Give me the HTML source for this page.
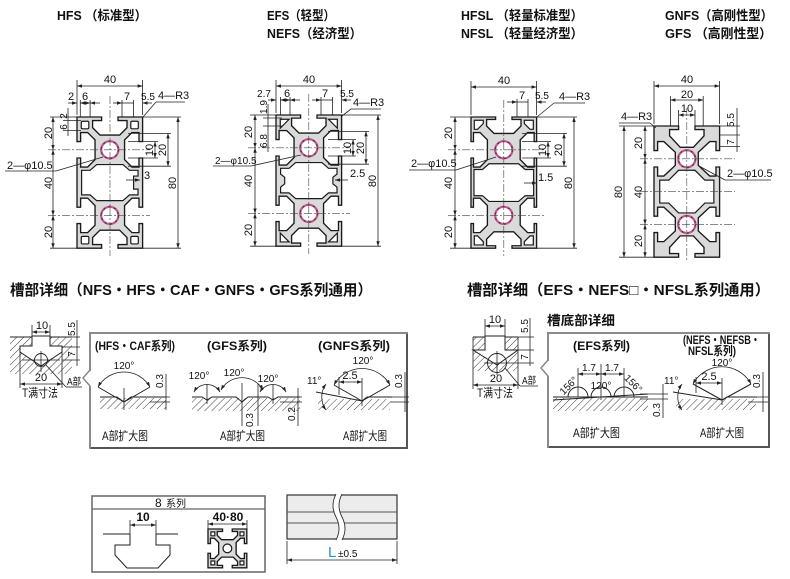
<!DOCTYPE html>
<html><head><meta charset="utf-8">
<style>
html,body{margin:0;padding:0;background:#fff;}
svg{display:block;}
text{font-family:"Liberation Sans","Noto Sans CJK SC",sans-serif;fill:#111;}
.t{font-size:13px;font-weight:bold;}
.t2{font-size:15px;font-weight:bold;}
.d{font-size:11px;}
.s{font-size:10px;}
.b{font-size:12px;font-weight:bold;}
.c{font-size:12px;}
.ln{stroke:#222;stroke-width:0.8;fill:none;}
.cl{stroke:#444;stroke-width:0.6;stroke-dasharray:8 2 2 2;fill:none;}
.m{fill:#dadada;stroke:#1a1a1a;stroke-width:1.35;vector-effect:non-scaling-stroke;}
.h{fill:#fff;stroke:#1a1a1a;stroke-width:1.2;vector-effect:non-scaling-stroke;}
.pk{fill:#fff;stroke:#c2548f;stroke-width:2.2;vector-effect:non-scaling-stroke;}
.pd{fill:none;stroke:#333;stroke-width:0.6;stroke-dasharray:1.2 2.2;}
.ht{fill:url(#hatch);stroke:none;}
.ol{stroke:#222;stroke-width:1;fill:none;}
</style></head><body>
<svg width="790" height="579" viewBox="0 0 790 579" xmlns="http://www.w3.org/2000/svg">
<defs>
<marker id="ar" viewBox="0 0 10 7" refX="10" refY="3.5" markerUnits="userSpaceOnUse" markerWidth="5" markerHeight="3.5" orient="auto-start-reverse" preserveAspectRatio="none"><path d="M0,0 L10,3.5 L0,7 Z" fill="#222"/></marker>
<pattern id="hatch" patternUnits="userSpaceOnUse" width="5" height="5" patternTransform="rotate(45)"><line x1="0" y1="0" x2="0" y2="5" stroke="#222" stroke-width="0.9"/></pattern>
</defs>

<!-- ================= TITLES ================= -->
<text class="t" x="57" y="20" textLength="90" lengthAdjust="spacingAndGlyphs">HFS （标准型）</text>
<text class="t" x="267" y="20" textLength="68" lengthAdjust="spacingAndGlyphs">EFS（轻型）</text>
<text class="t" x="267" y="38" textLength="95" lengthAdjust="spacingAndGlyphs">NEFS（经济型）</text>
<text class="t" x="461" y="20" textLength="122" lengthAdjust="spacingAndGlyphs">HFSL （轻量标准型）</text>
<text class="t" x="461" y="38" textLength="122" lengthAdjust="spacingAndGlyphs">NFSL （轻量经济型）</text>
<text class="t" x="665" y="20" textLength="108" lengthAdjust="spacingAndGlyphs">GNFS（高刚性型）</text>
<text class="t" x="665" y="38" textLength="107" lengthAdjust="spacingAndGlyphs">GFS （高刚性型）</text>

<!-- ================= HFS PROFILE ================= -->
<g transform="translate(77,117) scale(1.64)">
<path class="m" d="M0,0 L15,0 15,2.2 9.5,2.2 9.5,6.5 14,11 26,11 30.5,6.5 30.5,2.2 25,2.2 25,0 40,0 40,15 37.8,15 37.8,9.5 33.5,9.5 29,14 29,26 33.5,30.5 37.8,30.5 37.8,25 40,25 40,55 37.8,55 37.8,49.5 33.5,49.5 29,54 29,66 33.5,70.5 37.8,70.5 37.8,65 40,65 40,80 25,80 25,77.8 30.5,77.8 30.5,73.5 26,69 14,69 9.5,73.5 9.5,77.8 15,77.8 15,80 0,80 0,65 2.2,65 2.2,70.5 6.5,70.5 11,66 11,54 6.5,49.5 2.2,49.5 2.2,55 0,55 0,25 2.2,25 2.2,30.5 6.5,30.5 11,26 11,14 6.5,9.5 2.2,9.5 2.2,15 0,15 Z"/>
<rect class="h" x="2.6" y="2.6" width="4.6" height="4.6" rx="0.8"/>
<rect class="h" x="32.8" y="2.6" width="4.6" height="4.6" rx="0.8"/>
<rect class="h" x="2.6" y="72.8" width="4.6" height="4.6" rx="0.8"/>
<rect class="h" x="32.8" y="72.8" width="4.6" height="4.6" rx="0.8"/>
<path class="h" d="M2.8,32.5 L8,32.5 12,29 28,29 32,32.5 37.2,32.5 37.2,36 34.5,36 34.5,44 37.2,44 37.2,47.5 32,47.5 28,51 12,51 8,47.5 2.8,47.5 Z"/>
<circle class="pk" cx="20" cy="20" r="5.25"/><circle class="pd" cx="20" cy="20" r="5.25"/>
<circle class="pk" cx="20" cy="60" r="5.25"/><circle class="pd" cx="20" cy="60" r="5.25"/>
</g>
<line class="cl" x1="110" y1="96" x2="110" y2="256"/>
<line class="cl" x1="48" y1="149.8" x2="150" y2="149.8"/>
<line class="cl" x1="48" y1="215.4" x2="150" y2="215.4"/>
<!-- top dims -->
<line class="ln" x1="77" y1="80" x2="77" y2="115"/><line class="ln" x1="142.6" y1="80" x2="142.6" y2="115"/>
<line class="ln" x1="77" y1="86" x2="142.6" y2="86" marker-start="url(#ar)" marker-end="url(#ar)"/>
<text class="d" x="110" y="83" text-anchor="middle">40</text>
<line class="ln" x1="80.3" y1="100" x2="80.3" y2="117"/><line class="ln" x1="90.1" y1="100" x2="90.1" y2="117"/>
<line class="ln" x1="122" y1="100" x2="122" y2="117"/><line class="ln" x1="133.6" y1="100" x2="133.6" y2="117"/>
<line class="ln" x1="68" y1="103" x2="77" y2="103" marker-end="url(#ar)"/>
<line class="ln" x1="80.3" y1="103" x2="90.1" y2="103" marker-start="url(#ar)" marker-end="url(#ar)"/>
<line class="ln" x1="100" y1="103" x2="90.1" y2="103" marker-end="url(#ar)"/>
<line class="ln" x1="113" y1="103" x2="122" y2="103" marker-end="url(#ar)"/>
<line class="ln" x1="122" y1="103" x2="133.6" y2="103"/>
<line class="ln" x1="152" y1="103" x2="142.6" y2="103" marker-end="url(#ar)"/>
<text class="d" x="71" y="100" text-anchor="middle">2</text>
<text class="d" x="85" y="100" text-anchor="middle">6</text>
<text class="d" x="127" y="100" text-anchor="middle">7</text>
<text class="s" x="148" y="100" text-anchor="middle">5.5</text>
<text class="d" x="158" y="99">4—R3</text>
<line class="ln" x1="156" y1="102" x2="185" y2="102"/><line class="ln" x1="156" y1="102" x2="143" y2="117"/>
<!-- left dims -->
<line class="ln" x1="50" y1="117" x2="77" y2="117"/><line class="ln" x1="50" y1="248.2" x2="77" y2="248.2"/>
<line class="ln" x1="53" y1="117" x2="53" y2="149.8" marker-start="url(#ar)" marker-end="url(#ar)"/>
<line class="ln" x1="53" y1="149.8" x2="53" y2="215.4" marker-start="url(#ar)" marker-end="url(#ar)"/>
<line class="ln" x1="53" y1="215.4" x2="53" y2="248.2" marker-start="url(#ar)" marker-end="url(#ar)"/>
<text class="d" transform="translate(52,133) rotate(-90)" text-anchor="middle">20</text>
<text class="d" transform="translate(52,183) rotate(-90)" text-anchor="middle">40</text>
<text class="d" transform="translate(52,232) rotate(-90)" text-anchor="middle">20</text>
<line class="ln" x1="63" y1="120.6" x2="81" y2="120.6"/><line class="ln" x1="63" y1="130.5" x2="81" y2="130.5"/>
<line class="ln" x1="68" y1="108" x2="68" y2="136"/>
<text class="s" transform="translate(67,116) rotate(-90)" text-anchor="middle">2</text>
<text class="s" transform="translate(67,127) rotate(-90)" text-anchor="middle">6</text>
<text class="d" x="7" y="169">2—φ10.5</text>
<line class="ln" x1="5" y1="171" x2="56" y2="171"/><line class="ln" x1="56" y1="171" x2="103" y2="157"/>
<!-- right dims -->
<line class="ln" x1="128" y1="141.6" x2="158" y2="141.6"/><line class="ln" x1="128" y1="158" x2="158" y2="158"/>
<line class="ln" x1="128" y1="133.4" x2="171" y2="133.4"/><line class="ln" x1="128" y1="166.2" x2="171" y2="166.2"/>
<line class="ln" x1="155" y1="141.6" x2="155" y2="158" marker-start="url(#ar)" marker-end="url(#ar)"/>
<line class="ln" x1="168" y1="133.4" x2="168" y2="166.2" marker-start="url(#ar)" marker-end="url(#ar)"/>
<text class="d" transform="translate(153,150) rotate(-90)" text-anchor="middle">10</text>
<text class="d" transform="translate(166,150) rotate(-90)" text-anchor="middle">20</text>
<line class="ln" x1="126" y1="180" x2="140" y2="180" marker-end="url(#ar)"/>
<text class="d" x="144" y="179">3</text>
<line class="ln" x1="143" y1="117" x2="181" y2="117"/><line class="ln" x1="143" y1="248.2" x2="181" y2="248.2"/>
<line class="ln" x1="178" y1="117" x2="178" y2="248.2" marker-start="url(#ar)" marker-end="url(#ar)"/>
<text class="d" transform="translate(176,183) rotate(-90)" text-anchor="middle">80</text>

<!-- ================= EFS PROFILE ================= -->
<g transform="translate(276,115) scale(1.64)">
<path class="m" d="M0,0 L15,0 15,1.9 9.5,1.9 9.5,6.5 14,11 26,11 30.5,6.5 30.5,1.9 25,1.9 25,0 40,0 40,15 38.1,15 38.1,9.5 33.5,9.5 29,14 29,26 33.5,30.5 38.1,30.5 38.1,25 40,25 40,55 38.1,55 38.1,49.5 33.5,49.5 29,54 29,66 33.5,70.5 38.1,70.5 38.1,65 40,65 40,80 25,80 25,78.1 30.5,78.1 30.5,73.5 26,69 14,69 9.5,73.5 9.5,78.1 15,78.1 15,80 0,80 0,65 1.9,65 1.9,70.5 6.5,70.5 11,66 11,54 6.5,49.5 1.9,49.5 1.9,55 0,55 0,25 1.9,25 1.9,30.5 6.5,30.5 11,26 11,14 6.5,9.5 1.9,9.5 1.9,15 0,15 Z"/>
<polygon class="h" points="2.6,2.6 8,2.6 2.6,8"/>
<polygon class="h" points="32,2.6 37.4,2.6 37.4,8"/>
<polygon class="h" points="2.6,72 2.6,77.4 8,77.4"/>
<polygon class="h" points="37.4,72 37.4,77.4 32,77.4"/>
<path class="h" d="M2.8,32.5 L8,32.5 12,29 28,29 32,32.5 37.2,32.5 37.2,36 34.7,38 34.7,42 37.2,44 37.2,47.5 32,47.5 28,51 12,51 8,47.5 2.8,47.5 2.8,44 5.3,42 5.3,38 2.8,36 Z"/>
<circle class="pk" cx="20" cy="20" r="5.25"/><circle class="pd" cx="20" cy="20" r="5.25"/>
<circle class="pk" cx="20" cy="60" r="5.25"/><circle class="pd" cx="20" cy="60" r="5.25"/>
</g>
<line class="cl" x1="308.8" y1="94" x2="308.8" y2="254"/>
<line class="cl" x1="248" y1="147.8" x2="350" y2="147.8"/>
<line class="cl" x1="248" y1="213.4" x2="350" y2="213.4"/>
<line class="ln" x1="276" y1="80" x2="276" y2="113"/><line class="ln" x1="341.6" y1="80" x2="341.6" y2="113"/>
<line class="ln" x1="276" y1="86" x2="341.6" y2="86" marker-start="url(#ar)" marker-end="url(#ar)"/>
<text class="d" x="309" y="83" text-anchor="middle">40</text>
<line class="ln" x1="280.4" y1="97" x2="280.4" y2="115"/><line class="ln" x1="290" y1="97" x2="290" y2="115"/>
<line class="ln" x1="321" y1="97" x2="321" y2="115"/><line class="ln" x1="332.6" y1="97" x2="332.6" y2="115"/>
<line class="ln" x1="268" y1="100" x2="276" y2="100" marker-end="url(#ar)"/>
<line class="ln" x1="280.4" y1="100" x2="290" y2="100" marker-start="url(#ar)" marker-end="url(#ar)"/>
<line class="ln" x1="300" y1="100" x2="290" y2="100" marker-end="url(#ar)"/>
<line class="ln" x1="312" y1="100" x2="321" y2="100" marker-end="url(#ar)"/>
<line class="ln" x1="321" y1="100" x2="332.6" y2="100"/>
<line class="ln" x1="351" y1="100" x2="341.6" y2="100" marker-end="url(#ar)"/>
<text class="s" x="264" y="97" text-anchor="middle">2.7</text>
<text class="d" x="287" y="97" text-anchor="middle">6</text>
<text class="d" x="325" y="97" text-anchor="middle">7</text>
<text class="s" x="347" y="97" text-anchor="middle">5.5</text>
<text class="d" x="353" y="106">4—R3</text>
<line class="ln" x1="351" y1="109" x2="381" y2="109"/><line class="ln" x1="351" y1="109" x2="342" y2="116"/>
<line class="ln" x1="250" y1="115" x2="276" y2="115"/><line class="ln" x1="250" y1="246.2" x2="276" y2="246.2"/>
<line class="ln" x1="255" y1="115" x2="255" y2="147.8" marker-start="url(#ar)" marker-end="url(#ar)"/>
<line class="ln" x1="255" y1="147.8" x2="255" y2="213.4" marker-start="url(#ar)" marker-end="url(#ar)"/>
<line class="ln" x1="255" y1="213.4" x2="255" y2="246.2" marker-start="url(#ar)" marker-end="url(#ar)"/>
<text class="d" transform="translate(252,132) rotate(-90)" text-anchor="middle">20</text>
<text class="d" transform="translate(252,181) rotate(-90)" text-anchor="middle">40</text>
<text class="d" transform="translate(252,230) rotate(-90)" text-anchor="middle">20</text>
<line class="ln" x1="263" y1="118" x2="282" y2="118"/><line class="ln" x1="263" y1="126" x2="282" y2="126"/>
<line class="ln" x1="268" y1="104" x2="268" y2="152"/>
<text class="s" transform="translate(267,107) rotate(-90)" text-anchor="middle">1.9</text>
<text class="s" transform="translate(267,141) rotate(-90)" text-anchor="middle">6.8</text>
<text class="s" x="215" y="164">2—φ10.5</text>
<line class="ln" x1="213" y1="166" x2="251" y2="166"/><line class="ln" x1="251" y1="166" x2="301" y2="155"/>
<line class="ln" x1="328" y1="139.6" x2="356" y2="139.6"/><line class="ln" x1="328" y1="156" x2="356" y2="156"/>
<line class="ln" x1="328" y1="131.4" x2="369" y2="131.4"/><line class="ln" x1="328" y1="164.2" x2="369" y2="164.2"/>
<line class="ln" x1="353" y1="139.6" x2="353" y2="156" marker-start="url(#ar)" marker-end="url(#ar)"/>
<line class="ln" x1="366" y1="131.4" x2="366" y2="164.2" marker-start="url(#ar)" marker-end="url(#ar)"/>
<text class="d" transform="translate(351,148) rotate(-90)" text-anchor="middle">10</text>
<text class="d" transform="translate(364,148) rotate(-90)" text-anchor="middle">20</text>
<line class="ln" x1="348" y1="180" x2="335" y2="180" marker-end="url(#ar)"/>
<text class="d" x="350" y="177">2.5</text>
<line class="ln" x1="342" y1="115" x2="381" y2="115"/><line class="ln" x1="342" y1="246.2" x2="381" y2="246.2"/>
<line class="ln" x1="378" y1="115" x2="378" y2="246.2" marker-start="url(#ar)" marker-end="url(#ar)"/>
<text class="d" transform="translate(376,181) rotate(-90)" text-anchor="middle">80</text>

<!-- ================= HFSL PROFILE ================= -->
<g transform="translate(471,117) scale(1.64)">
<path class="m" d="M0,0 L15,0 15,1.5 9.5,1.5 9.5,5.5 14,10 26,10 30.5,5.5 30.5,1.5 25,1.5 25,0 40,0 40,15 38.5,15 38.5,9.5 34.5,9.5 30,14 30,26 34.5,30.5 38.5,30.5 38.5,25 40,25 40,55 38.5,55 38.5,49.5 34.5,49.5 30,54 30,66 34.5,70.5 38.5,70.5 38.5,65 40,65 40,80 25,80 25,78.5 30.5,78.5 30.5,74.5 26,70 14,70 9.5,74.5 9.5,78.5 15,78.5 15,80 0,80 0,65 1.5,65 1.5,70.5 5.5,70.5 10,66 10,54 5.5,49.5 1.5,49.5 1.5,55 0,55 0,25 1.5,25 1.5,30.5 5.5,30.5 10,26 10,14 5.5,9.5 1.5,9.5 1.5,15 0,15 Z"/>
<polygon class="h" points="2,2 7.5,2 7.5,4 4,7.5 2,7.5"/>
<polygon class="h" points="32.5,2 38,2 38,7.5 36,7.5 32.5,4"/>
<polygon class="h" points="2,72.5 4,72.5 7.5,76 7.5,78 2,78"/>
<polygon class="h" points="38,72.5 38,78 32.5,78 32.5,76 36,72.5"/>
<path class="h" d="M1.8,32 L7,32 11,28.5 29,28.5 33,32 38.2,32 38.2,48 33,48 29,51.5 11,51.5 7,48 1.8,48 Z"/>
<circle class="pk" cx="20" cy="20" r="5.25"/><circle class="pd" cx="20" cy="20" r="5.25"/>
<circle class="pk" cx="20" cy="60" r="5.25"/><circle class="pd" cx="20" cy="60" r="5.25"/>
</g>
<line class="cl" x1="503.8" y1="100" x2="503.8" y2="256"/>
<line class="cl" x1="448" y1="149.8" x2="545" y2="149.8"/>
<line class="cl" x1="448" y1="215.4" x2="545" y2="215.4"/>
<line class="ln" x1="471" y1="81" x2="471" y2="115"/><line class="ln" x1="536.6" y1="81" x2="536.6" y2="115"/>
<line class="ln" x1="471" y1="87" x2="536.6" y2="87" marker-start="url(#ar)" marker-end="url(#ar)"/>
<text class="d" x="504" y="84" text-anchor="middle">40</text>
<line class="ln" x1="517" y1="99" x2="517" y2="117"/><line class="ln" x1="528" y1="99" x2="528" y2="117"/>
<line class="ln" x1="507" y1="102" x2="517" y2="102" marker-end="url(#ar)"/>
<line class="ln" x1="517" y1="102" x2="528" y2="102"/>
<line class="ln" x1="546" y1="102" x2="536.6" y2="102" marker-end="url(#ar)"/>
<text class="d" x="522" y="99" text-anchor="middle">7</text>
<text class="s" x="542" y="99" text-anchor="middle">5.5</text>
<text class="d" x="559" y="100">4—R3</text>
<line class="ln" x1="554" y1="103" x2="585" y2="103"/><line class="ln" x1="554" y1="103" x2="537" y2="117"/>
<line class="ln" x1="450" y1="117" x2="471" y2="117"/><line class="ln" x1="450" y1="248.2" x2="471" y2="248.2"/>
<line class="ln" x1="455" y1="117" x2="455" y2="149.8" marker-start="url(#ar)" marker-end="url(#ar)"/>
<line class="ln" x1="455" y1="149.8" x2="455" y2="215.4" marker-start="url(#ar)" marker-end="url(#ar)"/>
<line class="ln" x1="455" y1="215.4" x2="455" y2="248.2" marker-start="url(#ar)" marker-end="url(#ar)"/>
<text class="d" transform="translate(452,133) rotate(-90)" text-anchor="middle">20</text>
<text class="d" transform="translate(452,183) rotate(-90)" text-anchor="middle">40</text>
<text class="d" transform="translate(452,232) rotate(-90)" text-anchor="middle">20</text>
<text class="d" x="411" y="167">2—φ10.5</text>
<line class="ln" x1="409" y1="170" x2="456" y2="170"/><line class="ln" x1="456" y1="170" x2="496" y2="157"/>
<line class="ln" x1="522" y1="141.6" x2="551" y2="141.6"/><line class="ln" x1="522" y1="158" x2="551" y2="158"/>
<line class="ln" x1="522" y1="133.4" x2="567" y2="133.4"/><line class="ln" x1="522" y1="166.2" x2="567" y2="166.2"/>
<line class="ln" x1="548" y1="141.6" x2="548" y2="158" marker-start="url(#ar)" marker-end="url(#ar)"/>
<line class="ln" x1="564" y1="133.4" x2="564" y2="166.2" marker-start="url(#ar)" marker-end="url(#ar)"/>
<text class="d" transform="translate(546,150) rotate(-90)" text-anchor="middle">10</text>
<text class="d" transform="translate(562,150) rotate(-90)" text-anchor="middle">20</text>
<line class="ln" x1="524" y1="183" x2="537" y2="183" marker-end="url(#ar)"/>
<text class="d" x="538" y="181">1.5</text>
<line class="ln" x1="537" y1="117" x2="577" y2="117"/><line class="ln" x1="537" y1="248.2" x2="577" y2="248.2"/>
<line class="ln" x1="574" y1="117" x2="574" y2="248.2" marker-start="url(#ar)" marker-end="url(#ar)"/>
<text class="d" transform="translate(572,183) rotate(-90)" text-anchor="middle">80</text>

<!-- ================= GNFS PROFILE ================= -->
<g transform="translate(654,126) scale(1.64)">
<path class="m" d="M0,0 L15,0 15,2.2 9.5,2.2 9.5,6 16,13 24,13 30.5,6 30.5,2.2 25,2.2 25,0 40,0 40,15 37.8,15 37.8,9.5 34,9.5 27,16 27,24 34,30.5 37.8,30.5 37.8,25 40,25 40,55 37.8,55 37.8,49.5 34,49.5 27,56 27,64 34,70.5 37.8,70.5 37.8,65 40,65 40,80 25,80 25,77.8 30.5,77.8 30.5,74 24,67 16,67 9.5,74 9.5,77.8 15,77.8 15,80 0,80 0,65 2.2,65 2.2,70.5 6,70.5 13,64 13,56 6,49.5 2.2,49.5 2.2,55 0,55 0,25 2.2,25 2.2,30.5 6,30.5 13,24 13,16 6,9.5 2.2,9.5 2.2,15 0,15 Z"/>
<path class="h" d="M3.5,33 L9,33 15,27 25,27 31,33 36.5,33 36.5,47 31,47 25,53 15,53 9,47 3.5,47 Z"/>
<circle class="pk" cx="20" cy="20" r="5.25"/><circle class="pd" cx="20" cy="20" r="5.25"/>
<circle class="pk" cx="20" cy="60" r="5.25"/><circle class="pd" cx="20" cy="60" r="5.25"/>
</g>
<line class="cl" x1="686.8" y1="108" x2="686.8" y2="262"/>
<line class="cl" x1="640" y1="158.8" x2="735" y2="158.8"/>
<line class="cl" x1="640" y1="191.6" x2="735" y2="191.6"/>
<line class="cl" x1="640" y1="224.4" x2="735" y2="224.4"/>
<line class="ln" x1="654" y1="81" x2="654" y2="124"/><line class="ln" x1="719.6" y1="81" x2="719.6" y2="124"/>
<line class="ln" x1="654" y1="86" x2="719.6" y2="86" marker-start="url(#ar)" marker-end="url(#ar)"/>
<text class="d" x="687" y="83" text-anchor="middle">40</text>
<line class="ln" x1="670.4" y1="96" x2="670.4" y2="126"/><line class="ln" x1="703.2" y1="96" x2="703.2" y2="126"/>
<line class="ln" x1="670.4" y1="100" x2="703.2" y2="100" marker-start="url(#ar)" marker-end="url(#ar)"/>
<text class="d" x="687" y="98" text-anchor="middle">20</text>
<line class="ln" x1="678.6" y1="110" x2="678.6" y2="128"/><line class="ln" x1="695" y1="110" x2="695" y2="128"/>
<line class="ln" x1="678.6" y1="115" x2="695" y2="115" marker-start="url(#ar)" marker-end="url(#ar)"/>
<text class="d" x="687" y="112" text-anchor="middle">10</text>
<line class="ln" x1="720" y1="135" x2="740" y2="135"/><line class="ln" x1="720" y1="146.5" x2="740" y2="146.5"/>
<line class="ln" x1="720" y1="126" x2="740" y2="126"/>
<line class="ln" x1="737" y1="108" x2="737" y2="152"/>
<text class="s" transform="translate(734,120) rotate(-90)" text-anchor="middle">5.5</text>
<text class="s" transform="translate(734,142) rotate(-90)" text-anchor="middle">7</text>
<text class="d" x="621" y="120">4—R3</text>
<line class="ln" x1="619" y1="123" x2="650" y2="123"/><line class="ln" x1="650" y1="123" x2="656" y2="128"/>
<line class="ln" x1="619" y1="126" x2="654" y2="126"/><line class="ln" x1="619" y1="257.2" x2="654" y2="257.2"/>
<line class="ln" x1="624" y1="126" x2="624" y2="257.2" marker-start="url(#ar)" marker-end="url(#ar)"/>
<text class="d" transform="translate(622,192) rotate(-90)" text-anchor="middle">80</text>
<line class="ln" x1="645" y1="126" x2="645" y2="158.8" marker-start="url(#ar)" marker-end="url(#ar)"/>
<line class="ln" x1="645" y1="158.8" x2="645" y2="224.4" marker-start="url(#ar)" marker-end="url(#ar)"/>
<line class="ln" x1="645" y1="224.4" x2="645" y2="257.2" marker-start="url(#ar)" marker-end="url(#ar)"/>
<text class="d" transform="translate(642,143) rotate(-90)" text-anchor="middle">20</text>
<text class="d" transform="translate(642,192) rotate(-90)" text-anchor="middle">40</text>
<text class="d" transform="translate(642,241) rotate(-90)" text-anchor="middle">20</text>
<text class="d" x="727" y="177">2—φ10.5</text>
<line class="ln" x1="725" y1="180" x2="771" y2="180"/><line class="ln" x1="725" y1="180" x2="699" y2="166"/>

<!-- ================= MIDDLE TITLES ================= -->
<text class="t2" x="10" y="295" textLength="362" lengthAdjust="spacingAndGlyphs">槽部详细（NFS・HFS・CAF・GNFS・GFS系列通用）</text>
<text class="t2" x="467" y="295" textLength="303" lengthAdjust="spacingAndGlyphs">槽部详细（EFS・NEFS□・NFSL系列通用）</text>
<text x="547" y="325" style="font-size:13px;font-weight:bold" textLength="68" lengthAdjust="spacingAndGlyphs">槽底部详细</text>

<!-- ================= LEFT T-SLOT DETAIL ================= -->
<rect class="ht" x="10" y="337" width="62" height="37"/>
<polygon points="32,336 50,336 50,346 62,346 62,352 41,366 20,352 20,346 32,346" fill="#fff" stroke="#222" stroke-width="1"/>
<line class="ol" x1="10" y1="337" x2="32" y2="337"/><line class="ol" x1="50" y1="337" x2="72" y2="337"/>
<circle cx="41" cy="360" r="6.5" fill="none" stroke="#222" stroke-width="0.9"/>
<line class="ln" x1="41" y1="351" x2="41" y2="372"/><line class="ln" x1="22" y1="360" x2="60" y2="360"/>
<line class="ln" x1="20" y1="352" x2="20" y2="388"/><line class="ln" x1="62" y1="352" x2="62" y2="388"/>
<line class="ln" x1="20" y1="384" x2="62" y2="384" marker-start="url(#ar)" marker-end="url(#ar)"/>
<text class="d" x="41" y="381" text-anchor="middle">20</text>
<text class="c" x="22" y="397" textLength="36" lengthAdjust="spacingAndGlyphs">T满寸法</text>
<line class="ln" x1="46" y1="365" x2="66" y2="387"/><line class="ln" x1="66" y1="387" x2="82" y2="387"/>
<text class="s" x="67" y="385" textLength="14" lengthAdjust="spacingAndGlyphs">A部</text>
<line class="ln" x1="32" y1="325" x2="32" y2="337"/><line class="ln" x1="50" y1="325" x2="50" y2="337"/>
<line class="ln" x1="32" y1="332" x2="50" y2="332" marker-start="url(#ar)" marker-end="url(#ar)"/>
<text class="d" x="42" y="329" text-anchor="middle">10</text>
<line class="ln" x1="72" y1="337" x2="80" y2="337"/><line class="ln" x1="62" y1="347" x2="80" y2="347"/><line class="ln" x1="62" y1="360" x2="80" y2="360"/>
<line class="ln" x1="77" y1="320" x2="77" y2="366"/>
<text class="s" transform="translate(75,329) rotate(-90)" text-anchor="middle">5.5</text>
<text class="s" transform="translate(75,354) rotate(-90)" text-anchor="middle">7</text>

<!-- ================= BOX 1 ================= -->
<rect x="90" y="333" width="317" height="115" fill="#fff" stroke="#8a8a8a" stroke-width="2"/>
<line x1="407" y1="334" x2="407" y2="448" stroke="#555" stroke-width="2"/>
<line x1="91" y1="448" x2="408" y2="448" stroke="#555" stroke-width="2"/>
<line x1="90" y1="371" x2="90" y2="386" stroke="#fff" stroke-width="3"/>
<polyline points="90,370 83,378 90,386" fill="none" stroke="#888" stroke-width="1.5"/>
<text class="b" x="95" y="350" textLength="80" lengthAdjust="spacingAndGlyphs">(HFS・CAF系列)</text>
<text class="b" x="207" y="350" textLength="60" lengthAdjust="spacingAndGlyphs">(GFS系列)</text>
<text class="b" x="318" y="350" textLength="72" lengthAdjust="spacingAndGlyphs">(GNFS系列)</text>
<text class="c" x="102" y="440" textLength="46" lengthAdjust="spacingAndGlyphs">A部扩大图</text>
<text class="c" x="220" y="440" textLength="45" lengthAdjust="spacingAndGlyphs">A部扩大图</text>
<text class="c" x="343" y="440" textLength="44" lengthAdjust="spacingAndGlyphs">A部扩大图</text>
<!-- HFS/CAF sub -->
<rect class="ht" x="100" y="398" width="66" height="11"/>
<polyline class="ol" points="100,397 117,397 124,402 131,397 166,397"/>
<line class="ol" x1="98" y1="387" x2="124" y2="402"/><line class="ol" x1="124" y1="402" x2="150" y2="387"/>
<path class="ln" d="M98,387 A30,30 0 0 1 150,387" marker-start="url(#ar)" marker-end="url(#ar)"/>
<text class="s" x="124" y="369" text-anchor="middle">120°</text>
<line class="ln" x1="124" y1="388" x2="124" y2="410"/>
<line class="ln" x1="150" y1="397" x2="170" y2="397"/><line class="ln" x1="150" y1="402" x2="170" y2="402"/>
<line class="ln" x1="166" y1="374" x2="166" y2="410"/>
<text class="s" transform="translate(163,381) rotate(-90)" text-anchor="middle">0.3</text>
<!-- GFS sub -->
<rect class="ht" x="192" y="398" width="108" height="13"/>
<polyline class="ol" points="192,397 202,397 207,400 212,397 236,397 242,402 248,397 268,397 273,400 278,397 300,397"/>
<path class="ln" d="M194,392 A15,15 0 0 1 220,392" marker-start="url(#ar)" marker-end="url(#ar)"/>
<path class="ln" d="M221,390 A24,24 0 0 1 263,390" marker-start="url(#ar)" marker-end="url(#ar)"/>
<path class="ln" d="M260,392 A15,15 0 0 1 286,392" marker-start="url(#ar)" marker-end="url(#ar)"/>
<text class="s" x="199" y="379" text-anchor="middle">120°</text>
<text class="s" x="234" y="376" text-anchor="middle">120°</text>
<text class="s" x="268" y="382" text-anchor="middle">120°</text>
<line class="ln" x1="207" y1="384" x2="207" y2="404"/>
<line class="ln" x1="242" y1="383" x2="242" y2="426"/>
<line class="ln" x1="258" y1="384" x2="258" y2="426"/>
<line class="ln" x1="273" y1="384" x2="273" y2="404"/>
<text class="s" transform="translate(253,420) rotate(-90)" text-anchor="middle">0.3</text>
<line class="ln" x1="280" y1="397" x2="302" y2="397"/><line class="ln" x1="280" y1="402" x2="302" y2="402"/>
<line class="ln" x1="298" y1="388" x2="298" y2="426"/>
<text class="s" transform="translate(295,414) rotate(-90)" text-anchor="middle">0.2</text>
<!-- GNFS sub -->
<rect class="ht" x="318" y="399" width="72" height="11"/>
<polyline class="ol" points="316,392 362,401 367,397 392,397"/>
<line class="ol" x1="334" y1="385" x2="362" y2="401"/><line class="ol" x1="362" y1="401" x2="390" y2="385"/>
<path class="ln" d="M334,385 A32,32 0 0 1 390,385" marker-start="url(#ar)" marker-end="url(#ar)"/>
<text class="s" x="363" y="364" text-anchor="middle">120°</text>
<line class="ln" x1="339" y1="377" x2="339" y2="395"/><line class="ln" x1="362" y1="378" x2="362" y2="406"/>
<line class="ln" x1="339" y1="382" x2="362" y2="382" marker-start="url(#ar)" marker-end="url(#ar)"/>
<text class="d" x="350" y="379" text-anchor="middle">2.5</text>
<text class="s" x="307" y="384">11°</text>
<path class="ln" d="M326,384 A22,22 0 0 0 326,410" marker-start="url(#ar)" marker-end="url(#ar)"/>
<line class="ln" x1="390" y1="397" x2="409" y2="397"/><line class="ln" x1="390" y1="402" x2="409" y2="402"/>
<line class="ln" x1="405" y1="372" x2="405" y2="412"/>
<text class="s" transform="translate(402,381) rotate(-90)" text-anchor="middle">0.3</text>

<!-- ================= RIGHT T-SLOT DETAIL ================= -->
<rect class="ht" x="473" y="337" width="45" height="34"/>
<polygon points="485,336 505,336 505,350 518,350 497,365 473,350 485,350" fill="#fff" stroke="#222" stroke-width="1"/>
<line class="ol" x1="473" y1="337" x2="485" y2="337"/><line class="ol" x1="505" y1="337" x2="518" y2="337"/>
<circle cx="497" cy="363" r="9.5" fill="none" stroke="#222" stroke-width="0.9"/>
<line class="ln" x1="497" y1="351" x2="497" y2="375"/><line class="ln" x1="484" y1="363" x2="510" y2="363"/>
<line class="ln" x1="473" y1="337" x2="473" y2="389"/><line class="ln" x1="518" y1="337" x2="518" y2="389"/>
<line class="ln" x1="473" y1="385" x2="518" y2="385" marker-start="url(#ar)" marker-end="url(#ar)"/>
<text class="d" x="496" y="382" text-anchor="middle">20</text>
<text class="c" x="477" y="397" textLength="36" lengthAdjust="spacingAndGlyphs">T满寸法</text>
<line class="ln" x1="505" y1="368" x2="520" y2="386"/><line class="ln" x1="520" y1="386" x2="538" y2="386"/>
<text class="s" x="522" y="384" textLength="14" lengthAdjust="spacingAndGlyphs">A部</text>
<line class="ln" x1="485" y1="319" x2="485" y2="337"/><line class="ln" x1="505" y1="319" x2="505" y2="337"/>
<line class="ln" x1="485" y1="326" x2="505" y2="326" marker-start="url(#ar)" marker-end="url(#ar)"/>
<text class="d" x="495" y="323" text-anchor="middle">10</text>
<line class="ln" x1="518" y1="337" x2="534" y2="337"/><line class="ln" x1="518" y1="350" x2="534" y2="350"/><line class="ln" x1="510" y1="363" x2="534" y2="363"/>
<line class="ln" x1="530" y1="318" x2="530" y2="366"/>
<text class="s" transform="translate(528,326) rotate(-90)" text-anchor="middle">5.5</text>
<text class="s" transform="translate(528,357) rotate(-90)" text-anchor="middle">7</text>

<!-- ================= BOX 2 ================= -->
<rect x="548" y="333" width="221" height="114" fill="#fff" stroke="#8a8a8a" stroke-width="2"/>
<line x1="769" y1="334" x2="769" y2="447" stroke="#555" stroke-width="2"/>
<line x1="549" y1="447" x2="770" y2="447" stroke="#555" stroke-width="2"/>
<line x1="548" y1="361" x2="548" y2="376" stroke="#fff" stroke-width="3"/>
<polyline points="548,360 541,368 548,376" fill="none" stroke="#888" stroke-width="1.5"/>
<text class="b" x="573" y="350" textLength="57" lengthAdjust="spacingAndGlyphs">(EFS系列)</text>
<text class="b" x="683" y="344" textLength="77" lengthAdjust="spacingAndGlyphs">(NEFS・NEFSB・</text>
<text class="b" x="688" y="355" textLength="48" lengthAdjust="spacingAndGlyphs">NFSL系列)</text>
<text class="c" x="573" y="437" textLength="47" lengthAdjust="spacingAndGlyphs">A部扩大图</text>
<text class="c" x="700" y="437" textLength="44" lengthAdjust="spacingAndGlyphs">A部扩大图</text>
<!-- EFS sub -->
<rect class="ht" x="553" y="398" width="95" height="13"/>
<polyline class="ol" points="553,400 601,397 648,394"/>
<line class="ol" x1="553" y1="397" x2="648" y2="397"/>
<path class="ol" d="M568,397 A10,10 0 0 1 588,397"/>
<path class="ol" d="M591,397 A10,10 0 0 1 611,397"/>
<path class="ol" d="M614,397 A10,10 0 0 1 634,397"/>
<line class="ln" x1="578" y1="368" x2="578" y2="397"/><line class="ln" x1="601" y1="364" x2="601" y2="400"/><line class="ln" x1="624" y1="368" x2="624" y2="397"/>
<line class="ln" x1="578" y1="374" x2="601" y2="374" marker-start="url(#ar)" marker-end="url(#ar)"/>
<line class="ln" x1="601" y1="374" x2="624" y2="374" marker-start="url(#ar)" marker-end="url(#ar)"/>
<text class="s" x="589" y="371" text-anchor="middle">1.7</text>
<text class="s" x="612" y="371" text-anchor="middle">1.7</text>
<text class="s" transform="translate(571,388) rotate(-45)" text-anchor="middle">156°</text>
<text class="s" x="601" y="389" text-anchor="middle">120°</text>
<text class="s" transform="translate(631,386) rotate(45)" text-anchor="middle">156°</text>
<line class="ln" x1="640" y1="394" x2="668" y2="394"/><line class="ln" x1="640" y1="399" x2="668" y2="399"/>
<line class="ln" x1="663" y1="384" x2="663" y2="418"/>
<text class="s" transform="translate(660,410) rotate(-90)" text-anchor="middle">0.3</text>
<!-- NEFS sub -->
<rect class="ht" x="676" y="399" width="80" height="11"/>
<polyline class="ol" points="673,392 722,400 727,397 757,397"/>
<line class="ol" x1="693" y1="384" x2="722" y2="400"/><line class="ol" x1="722" y1="400" x2="751" y2="384"/>
<path class="ln" d="M693,384 A33,33 0 0 1 751,384" marker-start="url(#ar)" marker-end="url(#ar)"/>
<text class="s" x="722" y="366" text-anchor="middle">120°</text>
<line class="ln" x1="696" y1="377" x2="696" y2="393"/><line class="ln" x1="722" y1="378" x2="722" y2="405"/>
<line class="ln" x1="696" y1="383" x2="722" y2="383" marker-start="url(#ar)" marker-end="url(#ar)"/>
<text class="d" x="709" y="380" text-anchor="middle">2.5</text>
<text class="s" x="664" y="384">11°</text>
<path class="ln" d="M682,384 A22,22 0 0 0 682,410" marker-start="url(#ar)" marker-end="url(#ar)"/>
<line class="ln" x1="748" y1="397" x2="768" y2="397"/><line class="ln" x1="748" y1="402" x2="768" y2="402"/>
<line class="ln" x1="763" y1="372" x2="763" y2="412"/>
<text class="s" transform="translate(760,381) rotate(-90)" text-anchor="middle">0.3</text>

<!-- ================= BOTTOM BOX ================= -->
<rect x="92" y="496" width="173" height="76" fill="#fff" stroke="#666" stroke-width="1.5"/>
<line x1="92" y1="509" x2="265" y2="509" stroke="#666" stroke-width="1.2"/>
<text x="155" y="507" style="font-size:12px">8</text>
<text class="s" x="166" y="507" textLength="20" lengthAdjust="spacingAndGlyphs">系列</text>
<polyline class="ol" points="103,534 130,534 130,545 115,545 115,555 127,568 158,568 170,555 170,545 156,545 156,534 178,534"/>
<line class="ln" x1="130" y1="520" x2="130" y2="534"/><line class="ln" x1="156" y1="520" x2="156" y2="534"/>
<line class="ln" x1="130" y1="525" x2="156" y2="525" marker-start="url(#ar)" marker-end="url(#ar)"/>
<text x="143" y="521" text-anchor="middle" style="font-size:12px;font-weight:bold">10</text>
<text x="228" y="521" text-anchor="middle" style="font-size:12px;font-weight:bold">40·80</text>
<line class="ln" x1="208" y1="520" x2="208" y2="530"/><line class="ln" x1="247" y1="520" x2="247" y2="530"/>
<line class="ln" x1="208" y1="524" x2="247" y2="524" marker-start="url(#ar)" marker-end="url(#ar)"/>
<g transform="translate(208,529) scale(0.97)">
<path class="m" d="M0,0 L15,0 15,2.5 9.5,2.5 9.5,6.5 14,11 26,11 30.5,6.5 30.5,2.5 25,2.5 25,0 40,0 40,15 37.5,15 37.5,9.5 33.5,9.5 29,14 29,26 33.5,30.5 37.5,30.5 37.5,25 40,25 40,40 25,40 25,37.5 30.5,37.5 30.5,33.5 26,29 14,29 9.5,33.5 9.5,37.5 15,37.5 15,40 0,40 0,25 2.5,25 2.5,30.5 6.5,30.5 11,26 11,14 6.5,9.5 2.5,9.5 2.5,15 0,15 Z"/>
<rect class="h" x="3" y="3" width="4" height="4"/><rect class="h" x="33" y="3" width="4" height="4"/>
<rect class="h" x="3" y="33" width="4" height="4"/><rect class="h" x="33" y="33" width="4" height="4"/>
<circle class="h" cx="20" cy="20" r="4.5"/>
</g>

<!-- ================= ROD ================= -->
<rect x="287" y="495" width="110" height="44" fill="#ececec" stroke="#333" stroke-width="1.2"/>
<line x1="287" y1="512" x2="397" y2="512" stroke="#555" stroke-width="0.9"/>
<line x1="287" y1="523" x2="397" y2="523" stroke="#555" stroke-width="0.9"/>
<path d="M336,494 Q330,505.5 336,517 Q342,528.5 336,540 L342,540 Q348,528.5 342,517 Q336,505.5 342,494 Z" fill="#fff"/>
<path d="M336,494 Q330,505.5 336,517 Q342,528.5 336,540" fill="none" stroke="#333" stroke-width="0.9"/>
<path d="M342,494 Q336,505.5 342,517 Q348,528.5 342,540" fill="none" stroke="#333" stroke-width="0.9"/>
<line class="ln" x1="287" y1="541" x2="287" y2="564"/><line class="ln" x1="397" y1="541" x2="397" y2="564"/>
<line class="ln" x1="287" y1="560" x2="397" y2="560" marker-start="url(#ar)" marker-end="url(#ar)"/>
<text x="328" y="557" style="font-size:15px;fill:#2b8fe6">L</text>
<text x="338" y="557" style="font-size:10px">±0.5</text>
</svg>
</body></html>
